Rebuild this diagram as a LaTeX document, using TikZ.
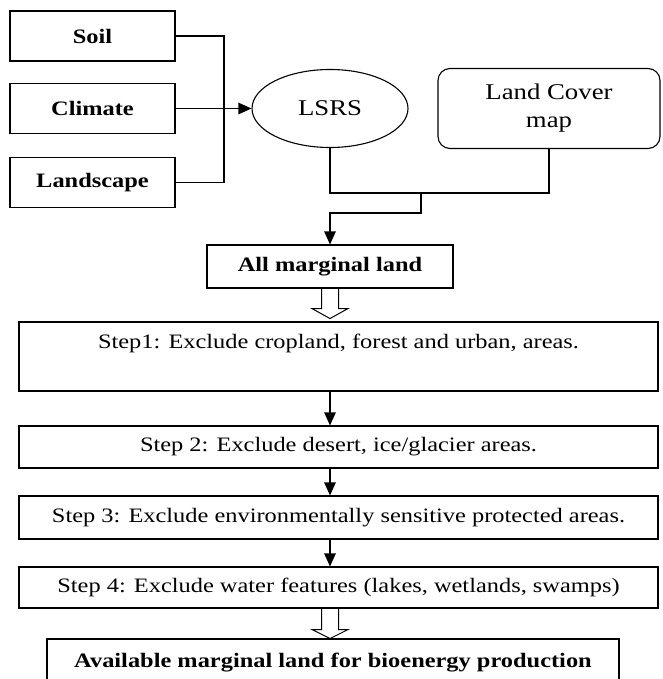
\documentclass[tikz,border=0pt]{standalone}
\usepackage{fontspec}
\setmainfont{Liberation Serif}[FakeStretch=1.19]
\usepackage{xcolor}
\usetikzlibrary{shapes.geometric, positioning, arrows.meta}

\begin{document}
\begin{tikzpicture}[x=1pt, y=-1pt, on grid, line width=1.1pt,
        inbox/.style={draw, rectangle, minimum width=165pt, minimum height=50pt, font=\fontsize{20.5}{24}\selectfont\bfseries},
        stepbox/.style={draw, rectangle, minimum width=639pt, minimum height=42pt, font=\fontsize{20.5}{24}\selectfont},
        arr/.style={-{Triangle[length=13pt, width=11.5pt]}}]
        \useasboundingbox (0,0) rectangle (662,679);

        \node[inbox] (soil) at (92.5,36) {Soil};
        \node[inbox] (climate) [below=72.5pt of soil] {Climate};
        \node[inbox] (landscape) [below=74pt of climate] {Landscape};
        \node[draw, ellipse, minimum width=156pt, minimum height=78pt, font=\fontsize{22.5}{28}\selectfont] (lsrs) [right=237.5pt of climate] {LSRS};
        \node[draw, rectangle, rounded corners=12pt, minimum width=222pt, minimum height=80pt, align=center, font=\fontsize{22.5}{28}\selectfont] (lcm) [right=219pt of lsrs] {Land Cover\\map};

        \node[draw, rectangle, minimum width=246pt, minimum height=43pt, font=\fontsize{20.5}{24}\selectfont\bfseries] (all) [below=158pt of lsrs] {All marginal land};
        \node[stepbox, minimum height=69pt, text height=14pt, text depth=31pt] (step1) [below=90pt of all, xshift=8.5pt] {Step1: Exclude cropland, forest and urban, areas.};
        \node[stepbox] (step2) [below=90.5pt of step1] {Step 2: Exclude desert, ice/glacier areas.};
        \node[stepbox, minimum height=43pt] (step3) [below=70.5pt of step2] {Step 3: Exclude environmentally sensitive protected areas.};
        \node[stepbox, minimum height=41pt] (step4) [below=70pt of step3] {Step 4: Exclude water features (lakes, wetlands, swamps)};
        \node[draw, rectangle, minimum width=572pt, minimum height=48pt, font=\fontsize{20.5}{24}\selectfont\bfseries] (avail) [below=75.5pt of step4, xshift=-5.5pt] {Available marginal land for bioenergy production};

        \coordinate (bus) at (224,108.5);
        \coordinate (mid) at (421,193);

        \draw (soil.east) -| (bus) |- (landscape.east);
        \draw[arr] (climate.east) -- (lsrs.west);
        \draw (lsrs.south) |- (mid) -| (lcm.south);
        \draw[arr] (mid) -- ++(0,20) -| (all.north);

        % open arrows
        \draw[line width=1pt] (all.south) ++(-8.5,0) -- ++(0,20) -- ++(-9.5,0) -- ++(18,10) -- ++(18,-10) -- ++(-9.5,0) -- ++(0,-20);
        \draw[line width=1pt] (step4.south -| all) ++(-8.5,0) -- ++(0,21) -- ++(-9.5,0) -- ++(18,9) -- ++(18,-9) -- ++(-9.5,0) -- ++(0,-21);

        \draw[arr] (step1.south -| all) -- (step2.north -| all);
        \draw[arr] (step2.south -| all) -- (step3.north -| all);
        \draw[arr] (step3.south -| all) -- (step4.north -| all);
        %\draw[arr] (step4.south -| all) -- (avail.north -| all);

    \end{tikzpicture}
\end{document}
